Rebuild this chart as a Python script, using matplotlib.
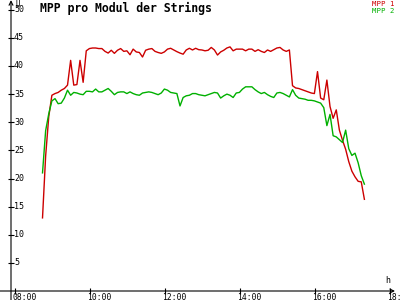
import numpy as np
import matplotlib
matplotlib.use("Agg")
import matplotlib.pyplot as plt
from matplotlib.transforms import offset_copy

# Messwerte alle 5 Minuten ab 08:44
start_min = 8 * 60 + 44
step_min = 5

mpp1 = [
    13.0, 24.0, 31.0, 34.8, 35.1, 35.3, 35.7, 36.0, 36.6, 41.0,
    36.6, 36.7, 41.0, 37.1, 42.7, 43.1, 43.2, 43.2, 43.1, 43.1,
    42.6, 42.3, 42.8, 42.25, 42.8, 43.1, 42.6, 42.7, 42.0, 43.0,
    42.5, 42.4, 41.6, 42.8, 43.0, 43.1, 42.6, 42.4, 42.25, 42.5,
    43.0, 43.15, 42.85, 42.55, 42.3, 42.1, 42.85, 43.15, 42.85, 43.15,
    42.9, 42.85, 42.7, 42.8, 43.3, 42.85, 41.95, 42.5, 42.8, 43.2,
    43.4, 42.7, 43.0, 43.0, 43.0, 42.7, 43.0, 43.0, 42.6, 42.9,
    42.6, 42.4, 42.85, 42.6, 42.9, 43.2, 43.3, 42.85, 42.6, 42.85,
    36.5, 36.1, 36.0, 35.8, 35.6, 35.4, 35.2, 35.1, 39.0, 34.3,
    34.0, 37.5, 32.8, 30.7, 32.2, 28.6, 26.8, 25.2, 23.0, 21.3,
    20.3, 19.5, 19.4, 16.3,
]

mpp2 = [
    21.0, 28.5, 31.5, 33.8, 34.2, 33.3, 33.4, 34.3, 35.7, 34.8,
    35.3, 35.2, 35.0, 34.9, 35.5, 35.5, 35.4, 35.9, 35.4, 35.4,
    35.7, 36.0, 35.5, 34.9, 35.3, 35.4, 35.4, 35.1, 35.4, 35.1,
    34.9, 34.8, 35.2, 35.3, 35.4, 35.3, 35.1, 34.9, 35.2, 35.9,
    35.7, 35.3, 35.2, 35.1, 32.9, 34.4, 34.7, 34.8, 35.1, 35.1,
    34.9, 34.8, 34.7, 34.9, 35.1, 35.3, 35.2, 34.3, 34.7, 35.0,
    34.8, 34.4, 35.2, 35.3, 35.9, 36.3, 36.3, 36.3, 35.8, 35.4,
    35.1, 35.3, 34.9, 34.6, 34.4, 35.2, 35.3, 35.1, 34.8, 34.5,
    35.8, 34.8, 34.3, 34.2, 34.1, 33.9, 33.9, 33.8, 33.6, 33.4,
    32.6, 29.4, 31.4, 27.6, 27.4, 26.9, 26.4, 28.6, 25.3, 24.1,
    24.5, 22.8, 20.5, 19.0,
]

x_ticks = [8, 10, 12, 14, 16, 18]
x_labels = ["08:00", "10:00", "12:00", "14:00", "16:00", "18:00"]
y_ticks = [5, 10, 15, 20, 25, 30, 35, 40, 45, 50]

title = "MPP pro Modul der Strings"
names = ["MPP 1", "MPP 2"]
colors = ["#cc0000", "#00b000"]

mono = "DejaVu Sans Mono"
t = (start_min + step_min * np.arange(len(mpp1))) / 60.0

fig = plt.figure(figsize=(4, 3), dpi=100)
fig.patch.set_facecolor("white")
ax = fig.add_axes([11 / 400, 9 / 300, 384 / 400, 288 / 300])
ax.set_xlim(7.893, 18.133)
ax.set_ylim(0, 51.2)

for vals, col in zip([mpp1, mpp2], colors):
    ax.plot(t, vals, color=col, lw=1.0)

for s in ax.spines.values():
    s.set_visible(False)

# Achsen mit Pfeilen
ax.annotate("", xy=(1.0, 0), xytext=(-0.03, 0), xycoords="axes fraction",
            arrowprops=dict(arrowstyle="->", lw=0.8, color="black",
                            shrinkA=0, shrinkB=0, mutation_scale=7))
ax.annotate("", xy=(0, 1.01), xytext=(0, -0.035), xycoords="axes fraction",
            arrowprops=dict(arrowstyle="->", lw=0.8, color="black",
                            shrinkA=0, shrinkB=0, mutation_scale=7))

ax.set_xticks(x_ticks)
ax.set_xticklabels([])
ax.set_yticks(y_ticks)
ax.set_yticklabels([])
ax.tick_params(direction="inout", length=4.5, width=0.8, color="black")

# x-Beschriftung links ausgerichtet, unter der Achse
xtr = offset_copy(ax.get_xaxis_transform(), fig=fig, x=-3, y=-1.5, units="dots")
for xv, lab in zip(x_ticks, x_labels):
    ax.text(xv, 0, lab, transform=xtr, ha="left", va="top",
            fontsize=5.8, family=mono, clip_on=False)

# y-Beschriftung rechts der Achse
ytr = offset_copy(ax.get_yaxis_transform(), fig=fig, x=3, y=0, units="dots")
for yv in y_ticks:
    ax.text(0, yv, str(yv), transform=ytr, ha="left", va="center",
            fontsize=6, family=mono, clip_on=False)

fig.text(15 / 400, 1 - 0 / 300, "U", ha="left", va="top", fontsize=5.5, family=mono)
fig.text(385 / 400, 1 - 276 / 300, "h", ha="left", va="top", fontsize=6, family=mono)

fig.text(40 / 400, 1 - 2 / 300, title, ha="left", va="top",
         fontsize=8.3, family=mono, weight="bold")

for i, (nm, col) in enumerate(zip(names, colors)):
    fig.text(394 / 400, 1 - (1 + 7 * i) / 300, nm, ha="right", va="top",
             fontsize=5.3, family=mono, color=col)

fig.savefig("out.png", dpi=100)
